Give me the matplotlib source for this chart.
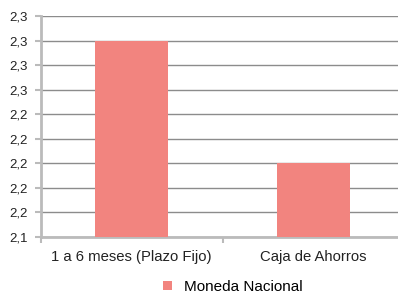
import numpy as np
import matplotlib
matplotlib.use('Agg')
import matplotlib.pyplot as plt
from matplotlib.patches import Patch
from matplotlib.ticker import FuncFormatter

categories = ['1 a 6 meses (Plazo Fijo)', 'Caja de Ahorros']
values = [2.30, 2.20]
series_name = 'Moneda Nacional'
y_ticks = [2.14, 2.16, 2.18, 2.20, 2.22, 2.24, 2.26, 2.28, 2.30, 2.32]

plt.rcParams['font.family'] = ['Liberation Sans', 'DejaVu Sans']

W, H = 398, 294
fig = plt.figure(figsize=(W / 100, H / 100), dpi=100)
left, right = 40.5, 404.5
bottom, top = 236.5, 16
ax = fig.add_axes([left / W, (H - bottom) / H, (right - left) / W, (bottom - top) / H])

x = np.arange(len(categories))
bar_color = '#F2847F'
ax.bar(x, values, width=0.4, color=bar_color, zorder=3, bottom=0)

ax.set_ylim(y_ticks[0], y_ticks[-1])
ax.set_xlim(-0.5, len(categories) - 0.5)
ax.set_yticks(y_ticks)
ax.yaxis.set_major_formatter(FuncFormatter(lambda v, p: f'{v:.1f}'.replace('.', ',')))
ax.grid(axis='y', color='#8c8c8c', linewidth=1.0, zorder=0)
ax.set_axisbelow(True)

ax.set_xticks(x)
ax.set_xticklabels(categories, fontsize=10.7, color='#222222')
ax.set_xticks([-0.5, 0.5, 1.5], minor=True)
ax.tick_params(axis='x', which='major', length=0, pad=10)
ax.tick_params(axis='x', which='minor', length=4, color='#bbbbbb', width=1.5)
ax.tick_params(axis='y', length=4, color='#bbbbbb', width=1.5, labelsize=9.5,
               labelcolor='#222222', pad=5)

for s in ['top', 'right']:
    ax.spines[s].set_visible(False)
for s in ['left', 'bottom']:
    ax.spines[s].set_color('#bbbbbb')
    ax.spines[s].set_linewidth(2)

handles = [Patch(facecolor=bar_color, edgecolor='none')]
fig.legend(handles, [series_name], loc='center', bbox_to_anchor=(233 / W, 1 - 287 / H),
           frameon=False, fontsize=11, handlelength=0.6, handleheight=0.6,
           handletextpad=0.8, borderpad=0, borderaxespad=0)

fig.savefig('out.png', dpi=100)
